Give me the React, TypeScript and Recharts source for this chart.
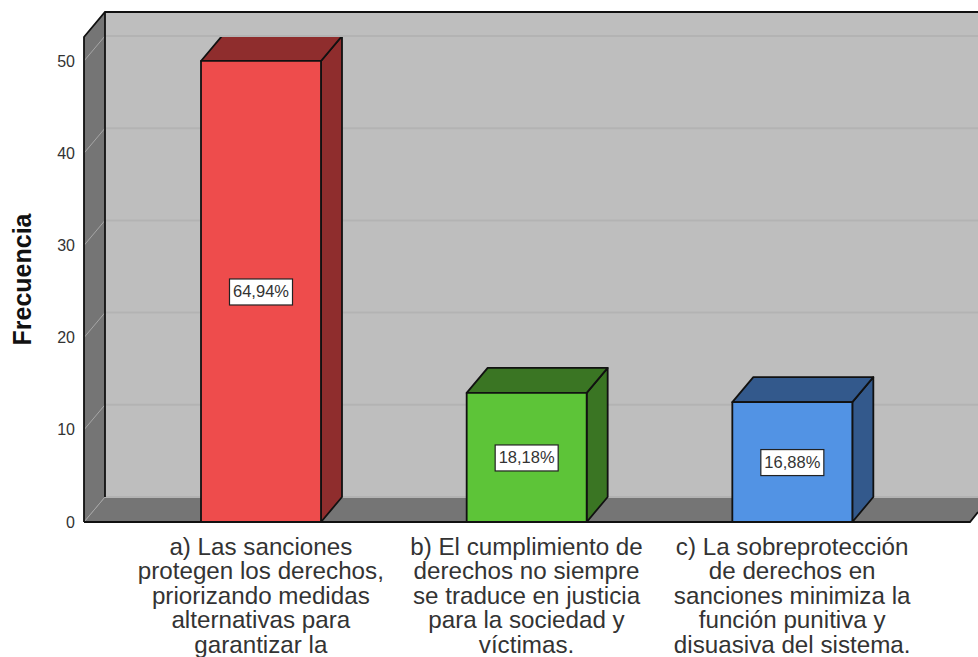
import { BarChart, Bar, XAxis, YAxis, CartesianGrid, Customized, LabelList } from 'recharts';

// Values
const categories = ['a', 'b', 'c'];
const frequencies = [50, 14, 13];
const percentLabels = ['64,94%', '18,18%', '16,88%'];
const tickLabels = [
  ['a) Las sanciones', 'protegen los derechos,', 'priorizando medidas', 'alternativas para', 'garantizar la'],
  ['b) El cumplimiento de', 'derechos no siempre', 'se traduce en justicia', 'para la sociedad y', 'víctimas.'],
  ['c) La sobreprotección', 'de derechos en', 'sanciones minimiza la', 'función punitiva y', 'disuasiva del sistema.'],
];
const yTicks = [0, 10, 20, 30, 40, 50];
const frontColors = ['#ee4c4c', '#5dc438', '#5293e4'];
const darkColors = ['#8f2d2d', '#3a7523', '#33598c'];

const chartData = categories.map((name, i) => ({
  name,
  frequency: frequencies[i],
  percent: percentLabels[i],
}));

const WIDTH = 978;
const HEIGHT = 657;
const LEFT = 84;
const TOP = 37;
const BOTTOM = 522;
const RIGHT = 970;
// offset of the back wall from the front plane
const DX = 21;
const DY = 25;
const EDGE = '#111';

// back wall, side wall and floor of the 3D box, sits behind the transparent chart
const Walls = () => (
  <svg width={WIDTH} height={HEIGHT} style={{ position: 'absolute', left: 0, top: 0 }}>
    <rect x={LEFT + DX} y={TOP - DY} width={WIDTH - LEFT - DX} height={BOTTOM - TOP} fill="#bebebe" />
    <polygon
      points={`${LEFT},${TOP} ${LEFT + DX},${TOP - DY} ${LEFT + DX},${BOTTOM - DY} ${LEFT},${BOTTOM}`}
      fill="#757575"
    />
    <polygon
      points={`${LEFT},${BOTTOM} ${LEFT + DX},${BOTTOM - DY} ${WIDTH},${BOTTOM - DY} ${WIDTH},${BOTTOM - 10} ${RIGHT},${BOTTOM}`}
      fill="#757575"
    />
  </svg>
);

const WallEdges = () => (
  <g fill="none" stroke={EDGE} strokeWidth={1.8}>
    <polyline points={`${LEFT},${BOTTOM} ${LEFT},${TOP} ${LEFT + DX},${TOP - DY} ${WIDTH},${TOP - DY}`} />
    <line x1={LEFT + DX} y1={TOP - DY} x2={LEFT + DX} y2={BOTTOM - DY} />
    <polyline points={`${LEFT},${BOTTOM} ${RIGHT},${BOTTOM} ${WIDTH},${BOTTOM - 10}`} />
  </g>
);

// each grid line runs up the side wall and then across the back wall
const GridLine = (props: any) => {
  const y = props.y1;
  return (
    <g fill="none">
      <line x1={LEFT} y1={y} x2={LEFT + DX} y2={y - DY} stroke="#a6a6a6" strokeWidth={1} />
      <line x1={LEFT + DX} y1={y - DY} x2={WIDTH} y2={y - DY} stroke="#b3b3b3" strokeWidth={2} />
    </g>
  );
};

const Bar3D = (props: any) => {
  const { x, y, width, height, index } = props;
  const front = frontColors[index];
  const dark = darkColors[index];
  const right = x + width;
  return (
    <g stroke={EDGE} strokeWidth={1.8} strokeLinejoin="round">
      <polygon
        points={`${right},${y} ${right + DX},${y - DY} ${right + DX},${y + height - DY} ${right},${y + height}`}
        fill={dark}
      />
      <polygon points={`${x},${y} ${x + DX},${y - DY} ${right + DX},${y - DY} ${right},${y}`} fill={dark} />
      <rect x={x} y={y} width={width} height={height} fill={front} />
    </g>
  );
};

const PercentLabel = (props: any) => {
  const { x, y, width, height, value } = props;
  const cx = x + width / 2;
  const cy = y + height / 2;
  return (
    <g>
      <rect x={cx - 31.5} y={cy - 12.5} width={63} height={26} fill="#fff" stroke="#222" strokeWidth={1.2} />
      <text x={cx} y={cy + 6} textAnchor="middle" fontSize={16.5} fontFamily="Liberation Sans" fill="#333">
        {value}
      </text>
    </g>
  );
};

const CategoryTick = (props: any) => {
  const { x, y, index } = props;
  return (
    <text textAnchor="middle" fontSize={24.2} fontFamily="Liberation Sans" fill="#333">
      {tickLabels[index].map((line, i) => (
        <tspan key={line} x={x} y={y + 33 + i * 24.4}>
          {line}
        </tspan>
      ))}
    </text>
  );
};

export default function App() {
  return (
    <div style={{ position: 'absolute', left: 0, top: 0, width: WIDTH, height: HEIGHT, overflow: 'hidden', background: '#fff' }}>
      <Walls />
      <BarChart
        width={WIDTH}
        height={HEIGHT}
        data={chartData}
        margin={{ top: TOP, right: WIDTH - RIGHT, bottom: 0, left: 0 }}
      >
        <CartesianGrid vertical={false} horizontal={(p: any) => <GridLine key={p.key} {...p} />} />
        <Customized component={<WallEdges />} />
        <XAxis
          dataKey="name"
          height={HEIGHT - BOTTOM}
          padding={{ left: 44, right: 45 }}
          axisLine={false}
          tickLine={false}
          tickSize={0}
          tickMargin={0}
          interval={0}
          tick={<CategoryTick />}
        />
        <YAxis
          width={LEFT}
          domain={[0, 52.6]}
          ticks={yTicks}
          allowDataOverflow
          axisLine={false}
          tickLine={false}
          tickSize={0}
          tickMargin={9}
          tick={{ fontSize: 16, fontFamily: 'Liberation Sans', fill: '#333' }}
          label={{
            value: 'Frecuencia',
            angle: -90,
            position: 'insideLeft',
            offset: 0,
            dx: 22,
            dy: 0,
            style: { fontSize: 25, fontWeight: 'bold', fontFamily: 'Liberation Sans', fill: '#111', textAnchor: 'middle' },
          }}
        />
        <Bar dataKey="frequency" barSize={120} shape={<Bar3D />} isAnimationActive={false}>
          <LabelList dataKey="percent" content={<PercentLabel />} />
        </Bar>
      </BarChart>
    </div>
  );
}
